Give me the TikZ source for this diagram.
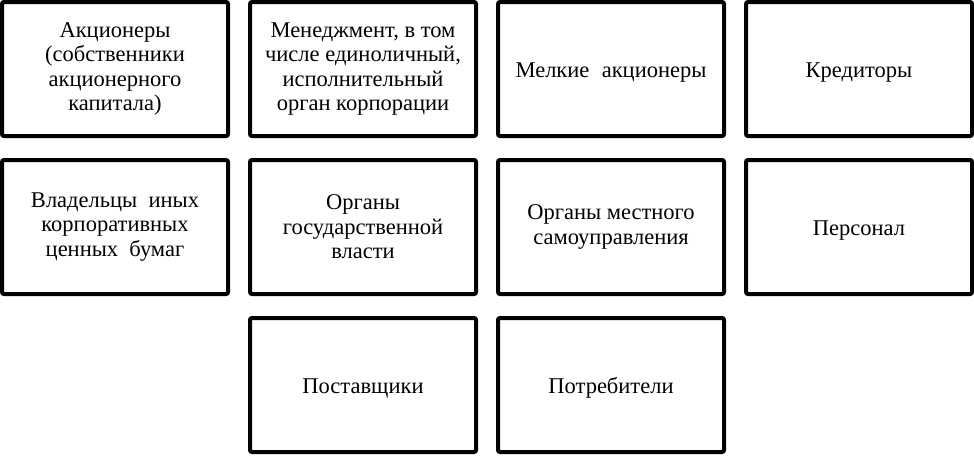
\documentclass[tikz,border=0pt]{standalone}
\usepackage{fontspec}
\setmainfont{Liberation Serif}
\begin{document}
\begin{tikzpicture}[x=1pt,y=-1pt,
  card/.style={draw=black,line width=4pt,rounded corners=2pt,minimum width=226pt,minimum height=134pt,
    align=center,font=\fontsize{22.5pt}{24.5pt}\selectfont,inner sep=0pt},
  oneline/.style={card,text height=19pt,text depth=3pt}]
\useasboundingbox (0,0) rectangle (974,455);
\node[card] (a1) at (115,69) {Акционеры\\(собственники\\акционерного\\капитала)};
\node[card] (a2) at (363,69) {Менеджмент, в том\\числе единоличный,\\исполнительный\\орган корпорации};
\node[oneline] (a3) at (611,69) {Мелкие\hspace{0.55em}акционеры};
\node[oneline] (a4) at (859,69) {Кредиторы};
\node[card] (b1) at (115,227) {Владельцы\hspace{0.5em}иных\\корпоративных\\ценных\hspace{0.5em}бумаг};
\node[card] (b2) at (363,227) {Органы\\государственной\\власти};
\node[card] (b3) at (611,227) {Органы местного\\самоуправления};
\node[oneline] (b4) at (859,227) {Персонал};
\node[oneline] (c2) at (363,385) {Поставщики};
\node[oneline] (c3) at (611,385) {Потребители};
\end{tikzpicture}
\end{document}
